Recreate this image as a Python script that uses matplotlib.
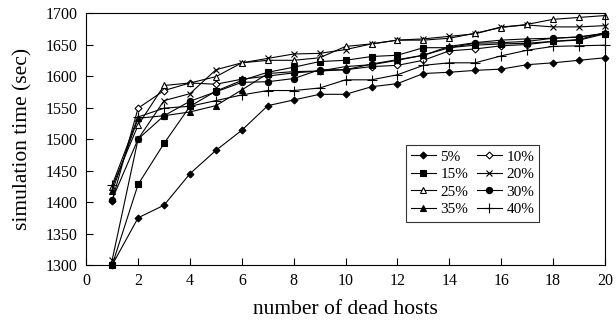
import numpy as np
import matplotlib
matplotlib.use('Agg')
import matplotlib.pyplot as plt

plt.rcParams['font.family'] = ['Liberation Serif', 'DejaVu Serif']

hosts = np.arange(1, 21)

# simulation time (sec) per dead-host count, one list per percentage
p5  = [1300, 1375, 1395, 1445, 1482, 1514, 1553, 1562, 1571, 1571,
       1583, 1588, 1604, 1606, 1609, 1611, 1618, 1621, 1625, 1629]
p10 = [1402, 1549, 1577, 1589, 1587, 1595, 1600, 1605, 1608, 1610,
       1615, 1617, 1625, 1640, 1643, 1648, 1650, 1655, 1658, 1669]
p15 = [1300, 1428, 1493, 1552, 1576, 1593, 1606, 1614, 1623, 1625,
       1631, 1633, 1645, 1645, 1649, 1651, 1652, 1655, 1657, 1667]
p20 = [1308, 1500, 1561, 1572, 1610, 1621, 1628, 1635, 1636, 1642,
       1651, 1657, 1659, 1663, 1667, 1678, 1681, 1678, 1678, 1680]
p25 = [1424, 1522, 1585, 1589, 1599, 1621, 1625, 1625, 1629, 1647,
       1651, 1657, 1657, 1660, 1668, 1677, 1682, 1690, 1693, 1696]
p30 = [1404, 1500, 1537, 1560, 1575, 1590, 1591, 1596, 1610, 1610,
       1619, 1626, 1633, 1645, 1652, 1653, 1655, 1660, 1662, 1667]
p35 = [1417, 1533, 1537, 1543, 1553, 1578, 1604, 1607, 1608, 1615,
       1618, 1625, 1633, 1647, 1653, 1657, 1659, 1660, 1662, 1668]
p40 = [1427, 1535, 1549, 1552, 1561, 1570, 1577, 1577, 1581, 1594,
       1594, 1602, 1617, 1621, 1621, 1632, 1641, 1647, 1648, 1649]

series = [('5%', p5, 'D', 'k', 3.5),
          ('10%', p10, 'D', 'w', 3.5),
          ('15%', p15, 's', 'k', 5),
          ('20%', p20, 'x', 'k', 5),
          ('25%', p25, '^', 'w', 5),
          ('30%', p30, 'o', 'k', 4.5),
          ('35%', p35, '^', 'k', 5),
          ('40%', p40, '+', 'k', 7)]

fig = plt.figure(figsize=(6.16, 3.26), dpi=100)
ax = fig.add_axes([0.14, 0.187, 0.842, 0.773])

lines = []
for lab, vals, mk, fc, ms in series:
    ln, = ax.plot(hosts, vals, color='k', lw=0.8, marker=mk, markersize=ms,
                  markerfacecolor=fc, markeredgecolor='k', markeredgewidth=0.8,
                  label=lab, clip_on=False)
    lines.append(ln)

ax.set_xlim(0, 20)
ax.set_ylim(1300, 1700)
ax.set_xticks(range(0, 21, 2))
ax.set_yticks(range(1300, 1701, 50))
ax.tick_params(direction='in', length=5, width=0.8, labelsize=11.5, pad=6)
for s in ax.spines.values():
    s.set_linewidth(0.8)
ax.set_xlabel('number of dead hosts', fontsize=15.5, labelpad=8)
ax.set_ylabel('simulation time (sec)', fontsize=15.5, labelpad=10)

# legend filled row by row: 5% 10% / 15% 20% / ...
order = [0, 2, 4, 6, 1, 3, 5, 7]
leg = ax.legend([lines[i] for i in order], [series[i][0] for i in order],
                ncol=2, loc='center', bbox_to_anchor=(0.745, 0.325),
                fontsize=11, frameon=True, fancybox=False, edgecolor='k',
                handlelength=1.6, handletextpad=0.3, columnspacing=0.6,
                labelspacing=0.25, borderpad=0.35, borderaxespad=0)
leg.get_frame().set_linewidth(0.8)

fig.savefig('out.png', dpi=100)
